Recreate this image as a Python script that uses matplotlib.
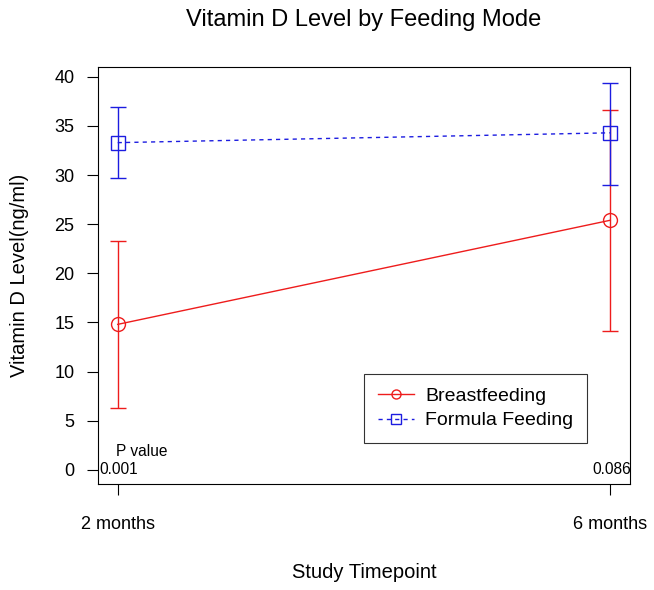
import matplotlib
matplotlib.use("Agg")
import matplotlib.pyplot as plt

plt.rcParams['font.family'] = ['Liberation Sans', 'DejaVu Sans']

# Data
timepoints = ["2 months", "6 months"]
x_pos = [1, 2]

breast_mean = [14.8, 25.4]
breast_low = [6.3, 14.1]
breast_high = [23.3, 36.6]

formula_mean = [33.3, 34.3]
formula_low = [29.7, 29.0]
formula_high = [36.9, 39.4]

p_values = ["0.001", "0.086"]

fig = plt.figure(figsize=(6.54, 5.9), dpi=100)
ax = fig.add_axes([98 / 654, 1 - 484 / 590, 532 / 654, 417 / 590])

def draw_series(means, lows, highs, color, marker, ls, label):
    yerr = [[m - l for m, l in zip(means, lows)], [h - m for m, h in zip(means, highs)]]
    ax.errorbar(x_pos, means, yerr=yerr, fmt="none", ecolor=color, elinewidth=1,
                capsize=5.5, capthick=1)
    ax.plot(x_pos, means, color=color, linestyle=ls, linewidth=1, marker=marker,
            markersize=10, markerfacecolor="none", markeredgecolor=color,
            markeredgewidth=1, label=label)

draw_series(breast_mean, breast_low, breast_high, "#ee1c1c", "o", "-", "Breastfeeding")
draw_series(formula_mean, formula_low, formula_high, "#1c1ce0", "s", (0, (3, 3)), "Formula Feeding")

ax.set_xlim(0.96, 2.04)
ax.set_ylim(-1.45, 41.0)
ax.set_yticks(range(0, 41, 5))
ax.set_xticks(x_pos)
ax.set_xticklabels(timepoints)
ax.tick_params(axis="both", length=8, width=0.8, labelsize=13)
ax.tick_params(axis="x", pad=15)
ax.tick_params(axis="y", pad=9)
for s in ax.spines.values():
    s.set_linewidth(0.8)

# P value annotations
ax.text(1.049, 1.9, "P value", fontsize=11.2, ha="center", va="center")
for xp, pv in zip(x_pos, p_values):
    ax.text(xp + 0.003, 0, pv, fontsize=11.2, ha="center", va="center")

leg = ax.legend(loc="lower left", bbox_to_anchor=((364 - 98) / 532, (484 - 443) / 417),
                borderaxespad=0, frameon=True, fancybox=False, edgecolor="black",
                fontsize=14, handlelength=1.85, borderpad=0.7, labelspacing=0.35,
                handletextpad=0.6, markerscale=0.65)
leg.get_frame().set_linewidth(0.8)

ax.set_ylabel("Vitamin D Level(ng/ml)", fontsize=14.5, labelpad=18)
ax.set_xlabel("Study Timepoint", fontsize=14.5, labelpad=22)
fig.text(364 / 654, 1 - 20 / 590, "Vitamin D Level by Feeding Mode", fontsize=17,
         ha="center", va="center")

fig.savefig("out.png", dpi=100)
